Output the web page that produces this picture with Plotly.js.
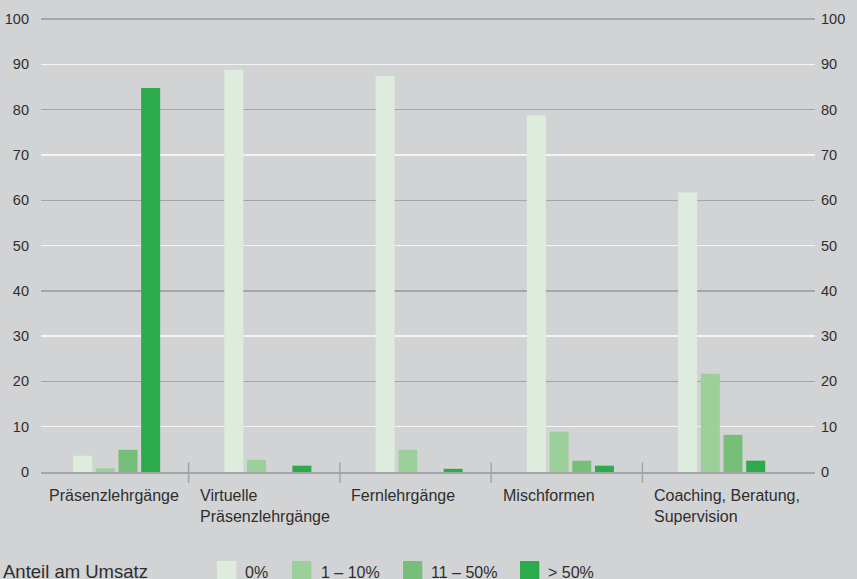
<!DOCTYPE html>
<html><head><meta charset="utf-8">
<script src="https://cdn.plot.ly/plotly-3.0.1.min.js"></script>
<style>html,body{margin:0;padding:0;background:#d2d3d5;} #chart{width:857px;height:579px;}</style>
</head><body><div id="chart"></div>
<script>
// ---- data ----
const categories = ["Präsenzlehrgänge", "Virtuelle<br>Präsenzlehrgänge", "Fernlehrgänge", "Mischformen", "Coaching, Beratung,<br>Supervision"];
const seriesNames = ["0%", "1 – 10%", "11 – 50%", "> 50%"];
const share0 = [3.6, 88.8, 87.5, 78.7, 61.7];
const share1to10 = [0.8, 2.7, 4.9, 8.9, 21.7];
const share11to50 = [4.9, 0, 0, 2.5, 8.2];
const shareOver50 = [84.8, 1.4, 0.7, 1.4, 2.5];
const yTickVals = [0, 10, 20, 30, 40, 50, 60, 70, 80, 90, 100];
const legendTitle = "Anteil am Umsatz";

// ---- styles / geometry ----
const colors = ["#ddecdc", "#9ccf99", "#76be79", "#2bab4b"];
const W = 857, H = 579, L = 41, R = 42, T = 15, B = 107;
const plotW = W - L - R, plotH = H - T - B;
const FONT = "Liberation Sans, Arial, Helvetica, sans-serif";
const TXT = "#2e2e2e";
const GRID_GREY = "#a4a5a7";
const X_RANGE = [-0.5, 4.617];
const Y_RANGE = [0, 100.9];
const pxX = x => (x - L) / plotW;
const pxY = y => (H - B - y) / plotH;
const dataToPaperX = v => (v - X_RANGE[0]) / (X_RANGE[1] - X_RANGE[0]);
const boundaryShift = 0.024;

const xIdx = categories.map((_, i) => i);
const allSeries = [share0, share1to10, share11to50, shareOver50];

const traces = allSeries.map((vals, k) => ({
  type: "bar",
  x: xIdx,
  y: vals,
  name: seriesNames[k],
  marker: {color: colors[k], line: {width: 0}},
  showlegend: false,
  hoverinfo: "y"
}));
// empty helper traces so that the overlay axes (right labels, grid) are drawn
traces.push({type: "scatter", x: [], y: [], yaxis: "y2", showlegend: false, hoverinfo: "skip"});
traces.push({type: "scatter", x: [], y: [], yaxis: "y3", showlegend: false, hoverinfo: "skip"});

const shapes = [];
const annotations = [];

// category separators (ticks crossing the baseline)
for (let i = 1; i < categories.length; i++) {
  shapes.push({
    type: "line", xref: "x", yref: "paper",
    x0: i - 0.5 - boundaryShift, x1: i - 0.5 - boundaryShift,
    y0: pxY(483), y1: pxY(462.5),
    line: {color: GRID_GREY, width: 1.5}
  });
}
// category labels
categories.forEach((c, i) => {
  annotations.push({
    text: c, xref: "paper", yref: "paper",
    x: dataToPaperX(i - 0.5 - boundaryShift), y: 0,
    xanchor: "left", yanchor: "top", align: "left",
    xshift: 9.5, yshift: -12.5, showarrow: false,
    font: {family: FONT, size: 16, color: TXT}
  });
});

// custom legend
annotations.push({
  text: legendTitle, xref: "paper", yref: "paper",
  x: pxX(1), y: pxY(559), xanchor: "left", yanchor: "top",
  showarrow: false, font: {family: FONT, size: 18.5, color: TXT}
});
const swatchX = [217, 292, 403, 520];
const labelX = [243, 319, 429, 546];
seriesNames.forEach((n, k) => {
  shapes.push({
    type: "rect", xref: "paper", yref: "paper",
    x0: pxX(swatchX[k]), x1: pxX(swatchX[k] + 19.3),
    y0: pxY(561), y1: pxY(582),
    fillcolor: colors[k], line: {width: 0}
  });
  annotations.push({
    text: n, xref: "paper", yref: "paper",
    x: pxX(labelX[k]), y: pxY(561.5), xanchor: "left", yanchor: "top",
    showarrow: false, font: {family: FONT, size: 16, color: TXT}
  });
});

const layout = {
  width: W, height: H,
  margin: {l: L, r: R, t: T, b: B, pad: 0},
  paper_bgcolor: "#d2d3d5",
  plot_bgcolor: "rgba(0,0,0,0)",
  barmode: "group",
  bargap: 0.4,
  bargroupgap: 0.163,
  showlegend: false,
  font: {family: FONT, color: TXT},
  xaxis: {
    type: "linear",
    range: X_RANGE,
    showticklabels: false, ticks: "", showgrid: false, zeroline: false,
    showline: true, linecolor: GRID_GREY, linewidth: 2,
    fixedrange: true
  },
  yaxis: {
    range: Y_RANGE, tickvals: yTickVals,
    showgrid: false, zeroline: false, ticks: "",
    tickfont: {family: FONT, size: 14.5, color: TXT},
    ticklabelstandoff: 11, fixedrange: true
  },
  yaxis2: {
    overlaying: "y", side: "right",
    range: Y_RANGE, tickvals: yTickVals,
    showgrid: false, zeroline: false, ticks: "",
    tickfont: {family: FONT, size: 14.5, color: TXT},
    ticklabelstandoff: 5, fixedrange: true
  },
  yaxis3: {
    overlaying: "y", side: "left",
    range: Y_RANGE, dtick: 20, tick0: 0,
    showticklabels: false, ticks: "",
    showgrid: true, gridcolor: GRID_GREY, gridwidth: 1.5,
    minor: {dtick: 10, tick0: 0, showgrid: true, gridcolor: "#f4f4f4", gridwidth: 1.5},
    zeroline: false, fixedrange: true
  },
  shapes: shapes,
  annotations: annotations
};

Plotly.newPlot("chart", traces, layout, {displayModeBar: false, staticPlot: true});
</script>
</body></html>
